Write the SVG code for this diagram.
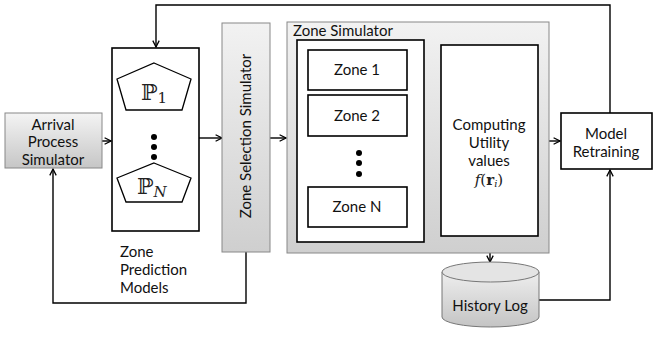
<svg xmlns="http://www.w3.org/2000/svg" width="655" height="339" viewBox="0 0 655 339">
<defs>
<linearGradient id="g1" x1="0" y1="0" x2="0" y2="1"><stop offset="0" stop-color="#f4f4f4"/><stop offset="1" stop-color="#c6c6c6"/></linearGradient>
<linearGradient id="g2" x1="0" y1="0" x2="0" y2="1"><stop offset="0" stop-color="#f2f2f2"/><stop offset="1" stop-color="#cfcfcf"/></linearGradient>
<linearGradient id="g3" x1="0" y1="0" x2="0" y2="1"><stop offset="0" stop-color="#eeeeee"/><stop offset="1" stop-color="#c4c4c4"/></linearGradient>
<marker id="ah" viewBox="0 0 10 10" refX="9" refY="5" markerWidth="8" markerHeight="8" markerUnits="userSpaceOnUse" orient="auto">
<polyline points="1,1 9,5 1,9" fill="none" stroke="#000" stroke-width="1.6"/>
</marker>
<style>
.t{font-family:Lato,"Open Sans","Liberation Sans",sans-serif;font-size:15px;fill:#111;text-anchor:middle}
.tl{font-family:Lato,"Open Sans","Liberation Sans",sans-serif;font-size:15px;fill:#111}
.m{font-family:"DejaVu Serif","Liberation Serif",serif;fill:#222}
.b{fill:#fff;stroke:#000;stroke-width:1.6}
.gb{stroke:#888;stroke-width:1}
.c{fill:none;stroke:#000;stroke-width:1.4}
</style>
</defs>
<g id="connectors">
<line class="c" x1="102" y1="141" x2="111" y2="141" marker-end="url(#ah)"/>
<line class="c" x1="199" y1="138" x2="222" y2="138" marker-end="url(#ah)"/>
<line class="c" x1="270" y1="138" x2="286" y2="138" marker-end="url(#ah)"/>
<line class="c" x1="424" y1="141" x2="440" y2="141" marker-end="url(#ah)"/>
<line class="c" x1="538" y1="141" x2="560" y2="141" marker-end="url(#ah)"/>
<line class="c" x1="490" y1="236" x2="490" y2="262" marker-end="url(#ah)"/>
<polyline class="c" points="539,300 610,300 610,170" marker-end="url(#ah)"/>
<polyline class="c" points="610,113 610,5 156,5 156,47" marker-end="url(#ah)"/>
<polyline class="c" points="246,252 246,303 53,303 53,169" marker-end="url(#ah)"/>
</g>
<g id="arrival">
<rect x="5" y="113" width="97" height="55" fill="url(#g1)" class="gb"/>
<text class="t" x="53" y="130">Arrival</text>
<text class="t" x="53" y="147">Process</text>
<text class="t" x="53" y="165">Simulator</text>
</g>
<g id="prediction">
<rect class="b" x="112" y="48" width="87" height="183"/>
<polygon points="154,63 191,79 182,110 126,110 117,79" fill="#fff" stroke="#000" stroke-width="1.3"/>
<text class="m" x="141" y="100" font-size="22">ℙ<tspan font-size="15" dy="3">1</tspan></text>
<circle cx="154" cy="137" r="3"/><circle cx="154" cy="147" r="3"/><circle cx="154" cy="157" r="3"/>
<polygon points="154,163 191,178 182,202 126,202 117,178" fill="#fff" stroke="#000" stroke-width="1.3"/>
<text class="m" x="137" y="194" font-size="22">ℙ<tspan font-size="15" font-style="italic" dy="3">N</tspan></text>
<text class="tl" x="120" y="257">Zone</text>
<text class="tl" x="120" y="275">Prediction</text>
<text class="tl" x="120" y="293">Models</text>
</g>
<g id="selection">
<rect x="222" y="23" width="48" height="229" fill="url(#g2)" class="gb"/>
<text class="t" transform="translate(251,136) rotate(-90)">Zone Selection Simulator</text>
</g>
<g id="zonesim">
<rect x="287" y="22" width="262" height="231" fill="url(#g2)" class="gb"/>
<text class="tl" x="293" y="36">Zone Simulator</text>
<rect class="b" x="297" y="40" width="127" height="202"/>
</g>
<g id="zone1">
<rect class="b" x="308" y="50" width="99" height="40"/>
<text class="t" x="357" y="75">Zone 1</text>
</g>
<g id="zone2">
<rect class="b" x="308" y="95" width="99" height="41"/>
<text class="t" x="357" y="121">Zone 2</text>
</g>
<g id="zonedots">
<circle cx="359" cy="153" r="3"/><circle cx="359" cy="163" r="3"/><circle cx="359" cy="174" r="3"/>
</g>
<g id="zoneN">
<rect class="b" x="308" y="187" width="99" height="40"/>
<text class="t" x="357" y="212">Zone N</text>
</g>
<g id="computing">
<rect class="b" x="441" y="45" width="97" height="191"/>
<text class="t" x="489" y="130">Computing</text>
<text class="t" x="489" y="148">Utility</text>
<text class="t" x="489" y="166">values</text>
<text class="m" x="489" y="185" font-size="15" text-anchor="middle"><tspan font-style="italic">f</tspan>(<tspan font-weight="bold">r</tspan><tspan font-style="italic" font-size="10" dy="2">i</tspan><tspan dy="-2">)</tspan></text>
</g>
<g id="retraining">
<rect class="b" x="561" y="113" width="91" height="56"/>
<text class="t" x="606" y="139">Model</text>
<text class="t" x="606" y="157">Retraining</text>
</g>
<g id="history">
<path d="M442,272 L442,317 A48.5,10 0 0 0 539,317 L539,272 Z" fill="url(#g3)" stroke="#777" stroke-width="1"/>
<ellipse cx="490.5" cy="272" rx="48.5" ry="10" fill="#e4e4e4" stroke="#777" stroke-width="1"/>
<text class="t" x="490" y="311">History Log</text>
</g>
</svg>
